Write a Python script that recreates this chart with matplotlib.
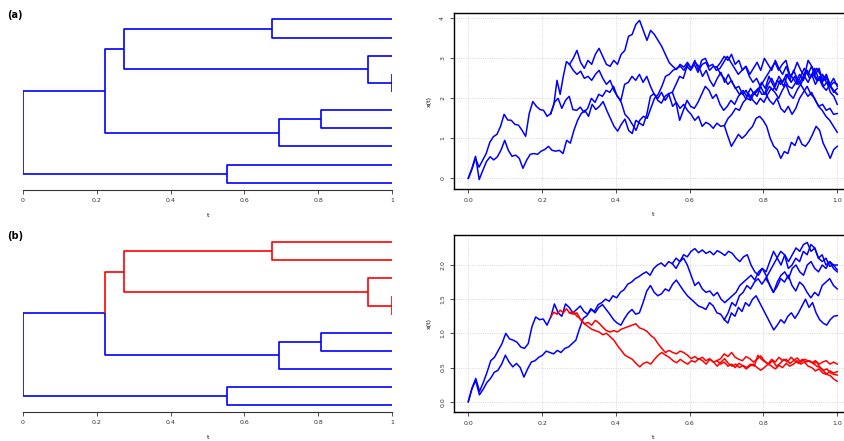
import numpy as np
import matplotlib
matplotlib.use("Agg")
import matplotlib.pyplot as plt

# tree: node split times and parents (nodes 9..18 are the leaves, top to bottom)
node_t = [0.0, 0.2235, 0.2745, 0.674, 0.935, 1.0, 0.694, 0.806, 0.553,
          1, 1, 1, 1, 1, 1, 1, 1, 1, 1]
node_parent = [-1, 0, 1, 2, 2, 4, 1, 6, 0, 3, 3, 4, 5, 5, 7, 7, 6, 8, 8]
leaves = [9, 10, 11, 12, 13, 14, 15, 16, 17, 18]
red_nodes_b = [2, 3, 4, 5, 9, 10, 11, 12, 13]

# panel (a): path along the edge leading into each node
a1 = [0.0, 0.22, 0.5, 0.28, 0.45, 0.62, 0.9, 1.04, 1.1, 1.3, 1.6, 1.46, 1.45, 1.35, 1.33, 1.2, 1.05, 1.62,
      1.92, 1.8, 1.72, 1.7, 1.55, 1.62]
a8 = [0.0, 0.25, 0.55, -0.03, 0.2, 0.42, 0.54, 0.46, 0.54, 0.71, 0.95, 0.7, 0.55, 0.58, 0.5, 0.25, 0.45, 0.6,
      0.62, 0.6, 0.68, 0.72, 0.8, 0.7, 0.68, 0.7, 0.62, 0.95, 0.88, 1.2, 1.45, 1.62, 1.7, 1.55, 1.85, 1.72, 1.8,
      1.92, 1.7, 1.5, 1.3, 1.18, 1.35, 1.48, 1.2, 1.12, 1.45, 1.38, 1.32, 1.6, 2.05, 2.12, 1.95, 1.88, 2.05,
      2.12, 2.15]
a2 = [1.62, 1.85, 2.45, 2.1, 2.55, 2.92, 2.85]
a6 = [1.62, 1.9, 2.0, 1.75, 1.95, 2.05, 1.72, 1.7, 1.78, 1.65, 1.75, 2.0, 1.9, 2.1, 2.05, 2.2, 2.15, 2.3, 2.05,
      1.95, 2.35, 2.4, 2.55, 2.45, 2.6, 2.4, 2.55, 2.3, 2.1, 2.0, 2.15, 1.95, 2.1, 1.8, 1.9, 1.75, 1.85, 1.7,
      1.6, 1.45, 1.55, 1.3, 1.4, 1.35, 1.25, 1.38, 1.3, 1.32]
a3 = [2.85, 3.0, 3.2, 2.9, 2.75, 2.95, 2.85, 3.1, 3.25, 3.05, 2.85, 2.8, 2.95, 2.85, 3.1, 3.2, 3.55, 3.6, 3.85,
      3.95, 3.7, 3.45, 3.7, 3.6, 3.45, 3.3, 3.1, 2.9, 2.8, 2.72, 2.85, 2.78, 2.9, 2.75, 2.95, 2.7, 2.85, 2.9,
      2.7, 2.8, 2.78]
a4 = [2.85, 2.7, 2.6, 2.68, 2.5, 2.55, 2.45, 2.6, 2.7, 2.5, 2.35, 2.45, 2.2, 2.05, 1.9, 1.6, 1.5, 1.35, 1.2,
      1.45, 1.55, 1.5, 1.75, 2.0, 2.1, 2.3, 2.55, 2.6, 2.7, 2.75, 2.8, 2.7, 2.85, 2.75, 2.9, 2.8, 2.55, 2.7,
      2.45, 2.3, 2.5, 2.65, 2.4, 2.6, 2.4, 2.25, 2.1, 2.2, 2.05, 2.25, 2.1, 2.2, 2.4, 2.25, 2.55, 2.35, 2.2,
      2.45, 2.3, 2.6, 2.4, 2.55, 2.35, 2.5, 2.7, 2.5, 2.6]
a9 = [2.78, 2.9, 3.05, 2.95, 3.1, 2.85, 2.95, 2.7, 2.8, 2.6, 2.75, 2.9, 2.7, 3.0, 2.85, 2.7, 2.95, 2.75, 2.6,
      2.8, 2.55, 2.65, 2.9, 2.7, 2.55, 2.95, 2.8, 2.6, 2.75, 2.45, 2.6, 2.35, 2.5, 2.3]
a10 = [2.78, 2.6, 2.5, 2.35, 2.45, 2.25, 2.3, 2.1, 2.2, 2.0, 2.15, 2.05, 2.3, 2.1, 2.35, 2.5, 2.3, 2.55, 2.4,
       2.6, 2.45, 2.7, 2.5, 2.35, 2.55, 2.4, 2.6, 2.35, 2.5, 2.3, 2.2, 2.35, 2.15, 2.25]
a11 = [2.6, 2.45, 2.55, 2.3, 2.4, 2.15, 2.05, 1.85]
a5 = [2.6, 2.75, 2.6, 2.45, 2.5, 2.3, 2.2, 2.1]
a7 = [1.32, 1.5, 1.6, 1.75, 1.7, 1.9, 2.0, 1.95, 2.15, 2.25, 2.1, 2.12]
a14 = [2.12, 2.3, 2.2, 2.45, 2.35, 2.5, 2.3, 2.25, 2.4, 2.6, 2.45, 2.7, 2.55, 2.75, 2.5, 2.4, 2.55, 2.3, 2.2,
       2.1]
a15 = [2.12, 1.95, 1.85, 2.0, 1.75, 1.65, 1.8, 1.6, 1.75, 2.0, 2.15, 2.3, 2.1, 2.0, 1.8, 1.7, 1.55, 1.45, 1.3,
       1.15]
a16 = [1.32, 1.05, 0.8, 0.95, 1.1, 1.0, 1.08, 1.2, 1.3, 1.5, 1.55, 1.45, 1.3, 1.0, 0.8, 0.72, 0.5, 0.67, 0.62,
       0.9, 0.82, 1.05, 0.85, 0.8, 0.92, 1.1, 1.3, 1.2, 0.88, 0.7, 0.5, 0.72, 0.8]
a17 = [2.15, 2.35, 2.55, 2.5, 2.8, 2.7, 2.85, 2.65, 2.95, 3.0, 2.8, 2.85, 2.7, 2.75, 2.9, 3.05, 2.9, 2.75, 2.6,
       2.7, 2.8, 2.55, 2.4, 2.5, 2.3, 2.45, 2.6, 2.75, 2.9, 2.7, 2.85, 2.95, 2.6, 2.5, 2.35, 2.55, 2.75, 2.6,
       2.8, 2.55, 2.45, 2.6, 2.4, 2.3, 2.4, 2.35]
a18 = [2.15, 1.9, 1.45, 1.7, 1.95, 1.8, 1.75, 1.9, 2.1, 2.3, 2.2, 2.0, 2.1, 1.85, 1.7, 1.8, 1.95, 1.85, 2.05,
       2.15, 2.0, 2.1, 1.95, 1.85, 2.0, 1.9, 2.1, 2.25, 2.15, 2.0, 2.2, 2.35, 2.1, 2.0, 2.2, 2.35, 2.2, 2.05,
       2.15, 1.95, 1.8, 1.85, 1.7, 1.75, 1.6, 1.62]

# panel (b)
b1 = [0.0, 0.2, 0.34, 0.15, 0.28, 0.43, 0.6, 0.65, 0.75, 0.85, 1.0, 0.92, 0.9, 0.87, 0.8, 0.78, 0.85, 1.1,
      1.24, 1.2, 1.21, 1.12, 1.24]
b8 = [0.0, 0.19, 0.31, 0.1, 0.18, 0.28, 0.34, 0.43, 0.46, 0.55, 0.68, 0.58, 0.51, 0.56, 0.5, 0.36, 0.48, 0.58,
      0.6, 0.65, 0.68, 0.74, 0.72, 0.7, 0.75, 0.72, 0.78, 0.8, 0.85, 0.9, 1.07, 1.22, 1.26, 1.36, 1.32, 1.42,
      1.45, 1.5, 1.47, 1.55, 1.52, 1.6, 1.64, 1.72, 1.75, 1.8, 1.83, 1.87, 1.9, 1.85, 1.95, 2.0, 2.03, 1.98,
      2.05, 2.02]
b2 = [1.24, 1.31, 1.28, 1.34, 1.3, 1.36, 1.3]
b6 = [1.24, 1.43, 1.3, 1.25, 1.43, 1.38, 1.3, 1.35, 1.4, 1.32, 1.28, 1.35, 1.3, 1.38, 1.42, 1.35, 1.28, 1.2,
      1.15, 1.12, 1.22, 1.3, 1.35, 1.28, 1.3, 1.45, 1.62, 1.7, 1.6, 1.55, 1.58, 1.65, 1.62, 1.72, 1.78, 1.7,
      1.62, 1.55, 1.5, 1.45, 1.4, 1.38, 1.35, 1.45, 1.4, 1.3, 1.28, 1.2]
b3 = [1.3, 1.28, 1.3, 1.2, 1.14, 1.16, 1.12, 1.19, 1.15, 1.09, 1.04, 1.02, 1.04, 1.02, 1.06, 1.08, 1.1, 1.12,
      1.14, 1.08, 1.06, 1.03, 0.97, 0.93, 0.85, 0.78, 0.72, 0.75, 0.72, 0.7, 0.74, 0.72, 0.68, 0.63, 0.66,
      0.62, 0.65, 0.6, 0.63, 0.58, 0.6]
b4 = [1.3, 1.32, 1.25, 1.21, 1.14, 1.1, 1.06, 1.04, 1.02, 0.98, 1.0, 0.95, 0.9, 0.82, 0.75, 0.68, 0.65, 0.62,
      0.56, 0.51, 0.56, 0.58, 0.55, 0.62, 0.68, 0.72, 0.68, 0.65, 0.6, 0.57, 0.62, 0.58, 0.55, 0.6, 0.58, 0.63,
      0.6, 0.55, 0.62, 0.58, 0.52, 0.58, 0.63, 0.56, 0.52, 0.55, 0.5, 0.53, 0.5, 0.55, 0.52, 0.68, 0.62, 0.58,
      0.55, 0.6, 0.52, 0.56, 0.62, 0.58, 0.65, 0.6, 0.56, 0.62, 0.58, 0.6, 0.56]
b9 = [0.6, 0.63, 0.7, 0.66, 0.72, 0.65, 0.62, 0.6, 0.66, 0.63, 0.58, 0.62, 0.67, 0.6, 0.55, 0.62, 0.58, 0.65,
      0.6, 0.62, 0.56, 0.6, 0.64, 0.58, 0.62, 0.6, 0.57, 0.6, 0.55, 0.58, 0.6, 0.55, 0.58, 0.55]
b10 = [0.6, 0.55, 0.58, 0.52, 0.55, 0.5, 0.56, 0.53, 0.48, 0.52, 0.55, 0.5, 0.46, 0.5, 0.55, 0.52, 0.48, 0.53,
       0.5, 0.56, 0.52, 0.55, 0.6, 0.55, 0.58, 0.52, 0.5, 0.45, 0.48, 0.42, 0.4, 0.45, 0.42, 0.44]
b11 = [0.56, 0.52, 0.5, 0.46, 0.48, 0.42, 0.4, 0.39]
b5 = [0.56, 0.58, 0.5, 0.45, 0.4, 0.38, 0.33, 0.3]
b7 = [1.2, 1.3, 1.45, 1.4, 1.55, 1.6, 1.7, 1.65, 1.75, 1.8, 1.72, 1.8]
b14 = [1.8, 1.9, 2.0, 2.1, 2.2, 2.15, 1.95, 2.0, 2.1, 2.05, 2.2, 2.15, 2.3, 2.25, 2.1, 2.15, 2.0, 2.05, 1.95,
       1.9]
b15 = [1.8, 1.72, 1.6, 1.68, 1.8, 1.75, 1.85, 1.7, 1.62, 1.75, 1.7, 1.6, 1.52, 1.6, 1.55, 1.7, 1.75, 1.8, 1.7,
       1.65]
b16 = [1.2, 1.15, 1.3, 1.25, 1.38, 1.32, 1.45, 1.4, 1.5, 1.55, 1.45, 1.35, 1.25, 1.15, 1.05, 1.12, 1.2, 1.15,
       1.25, 1.3, 1.22, 1.3, 1.4, 1.5, 1.38, 1.45, 1.3, 1.2, 1.15, 1.12, 1.2, 1.25, 1.26]
b17 = [2.02, 2.1, 2.05, 2.15, 2.12, 2.2, 2.24, 2.18, 2.22, 2.17, 2.2, 2.15, 2.21, 2.18, 2.14, 2.2, 2.17, 2.1,
       2.05, 2.12, 2.15, 2.0, 1.9, 1.85, 1.95, 1.9, 2.05, 2.2, 2.1, 2.0, 2.15, 2.05, 2.15, 2.25, 2.2, 2.3, 2.33,
       2.2, 2.25, 2.1, 2.05, 2.1, 1.98, 2.0, 1.93]
b18 = [2.02, 1.95, 2.05, 2.1, 2.0, 1.85, 1.7, 1.75, 1.65, 1.6, 1.62, 1.55, 1.6, 1.5, 1.45, 1.5, 1.55, 1.6, 1.7,
       1.75, 1.8, 1.85, 1.78, 1.9, 1.95, 1.85, 1.7, 1.6, 1.75, 1.85, 1.9, 1.8, 1.95, 2.0, 1.9, 1.85, 2.0, 2.05,
       1.95, 1.9, 2.0, 1.95, 2.05, 2.0, 2.0]

paths_a = {1: a1, 2: a2, 3: a3, 4: a4, 5: a5, 6: a6, 7: a7, 8: a8, 9: a9, 10: a10, 11: a11,
           14: a14, 15: a15, 16: a16, 17: a17, 18: a18}
paths_b = {1: b1, 2: b2, 3: b3, 4: b4, 5: b5, 6: b6, 7: b7, 8: b8, 9: b9, 10: b10, 11: b11,
           14: b14, 15: b15, 16: b16, 17: b17, 18: b18}

BLUE = "#0000ff"
RED = "#ff0000"

# y position of every node in the dendrogram (leaves 1..10, inner nodes = mean of children)
node_y = [0.0] * len(node_t)
for i, leaf in enumerate(leaves):
    node_y[leaf] = i + 1
for _ in range(5):
    for n in range(len(node_t)):
        kids = [k for k in range(len(node_t)) if node_parent[k] == n]
        if kids:
            node_y[n] = np.mean([node_y[k] for k in kids])


def draw_tree(ax, red_nodes, ylim):
    for n in range(1, len(node_t)):
        p = node_parent[n]
        c = RED if n in red_nodes else BLUE
        ax.plot([node_t[p], node_t[p], node_t[n]], [node_y[p], node_y[n], node_y[n]],
                color=c, lw=1.2, solid_capstyle="butt")
    ax.set_xlim(0, 1)
    ax.set_ylim(*ylim)
    for s in ["left", "right", "top"]:
        ax.spines[s].set_visible(False)
    ax.spines["bottom"].set_bounds(0, 1)
    ax.spines["bottom"].set_linewidth(0.8)
    ax.spines["bottom"].set_color("#333333")
    ax.set_yticks([])
    ax.set_xticks([0, 0.2, 0.4, 0.6, 0.8, 1])
    ax.set_xticklabels(["0", "0.2", "0.4", "0.6", "0.8", "1"])
    ax.tick_params(axis="x", labelsize=4.5, length=3, width=0.6, pad=3, colors="#333333")
    ax.set_xlabel("t", fontsize=4.5, labelpad=7)


def draw_paths(ax, paths, red_nodes, ylim, yticks, ylabels):
    order = sorted(paths, key=lambda n: n in red_nodes)
    for n in order:
        p = node_parent[n]
        vals = paths[n]
        tt = np.linspace(node_t[p], node_t[n], len(vals))
        c = RED if n in red_nodes else BLUE
        ax.plot(tt, vals, color=c, lw=1.1)
    ax.set_xlim(-0.04, 1.04)
    ax.set_ylim(*ylim)
    ax.set_xticks([0, 0.2, 0.4, 0.6, 0.8, 1.0])
    ax.set_xticklabels(["0.0", "0.2", "0.4", "0.6", "0.8", "1.0"])
    ax.set_yticks(yticks)
    ax.set_yticklabels(ylabels, rotation=90, va="center")
    ax.grid(True, color="#cccccc", linestyle=":", lw=0.6)
    ax.set_axisbelow(True)
    for s in ax.spines.values():
        s.set_linewidth(1.0)
    ax.tick_params(labelsize=4.5, length=3, width=0.6, pad=3, colors="#333333")
    ax.set_xlabel("t", fontsize=4.5, labelpad=7)
    ax.set_ylabel("x(t)", fontsize=4.5, labelpad=6)


fig = plt.figure(figsize=(8.45, 4.41), dpi=100)

ax1 = fig.add_axes([0.0269, 0.569, 0.4374, 0.408])
draw_tree(ax1, [], (10.405, 0.488))
ax2 = fig.add_axes([0.5367, 0.5707, 0.4716, 0.399])
draw_paths(ax2, paths_a, [], (-0.275, 4.125), [0, 1, 2, 3, 4], ["0", "1", "2", "3", "4"])

ax3 = fig.add_axes([0.0269, 0.0658, 0.4374, 0.408])
draw_tree(ax3, red_nodes_b, (10.37, 0.45))
ax4 = fig.add_axes([0.5367, 0.0651, 0.4716, 0.402])
draw_paths(ax4, paths_b, red_nodes_b, (-0.155, 2.439), [0, 0.5, 1, 1.5, 2],
           ["0.0", "0.5", "1.0", "1.5", "2.0"])

fig.text(0.008, 0.978, "(a)", fontsize=7, fontweight="bold", va="top")
fig.text(0.008, 0.477, "(b)", fontsize=7, fontweight="bold", va="top")

fig.savefig("out.png", dpi=100)
